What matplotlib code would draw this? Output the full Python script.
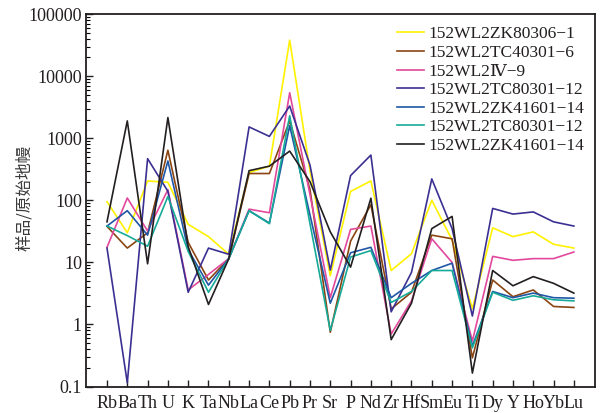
import matplotlib.pyplot as plt
from matplotlib.ticker import FixedLocator, FixedFormatter, LogLocator, NullFormatter

# normalised to primitive mantle
elements = ['Rb', 'Ba', 'Th', 'U', 'K', 'Ta', 'Nb', 'La', 'Ce', 'Pb', 'Pr', 'Sr',
            'P', 'Nd', 'Zr', 'Hf', 'Sm', 'Eu', 'Ti', 'Dy', 'Y', 'Ho', 'Yb', 'Lu']

zk80306_1 = [95, 30, 205, 195, 41, 26, 13.5, 280, 355, 38000, 300, 6.1,
             139, 205, 7.4, 13.8, 100, 23, 1.8, 36, 26, 31, 19.6, 17]
tc40301_6 = [38, 17, 30, 640, 21, 5.2, 11.5, 270, 270, 1900, 150, 0.75,
             22, 85, 1.78, 3.3, 27.5, 24, 0.29, 5.2, 2.8, 3.6, 1.95, 1.88]
iv_9 = [17.5, 109, 32, 148, 3.6, 6.4, 11.5, 72, 63, 5400, 123, 2.7,
        34, 38.5, 0.70, 2.4, 24, 10, 0.54, 12.5, 10.8, 11.5, 11.5, 14.7]
tc80301_12a = [17, 0.115, 468, 140, 3.3, 17, 13.5, 1520, 1070, 3300, 370, 7.5,
               250, 535, 1.6, 6.9, 221, 35, 1.37, 74, 60, 65, 45, 38.5]
zk41601_14a = [38.5, 68, 27.5, 430, 16, 4.3, 11.5, 68, 43, 1590, 58, 2.2,
               14.3, 17.5, 2.7, 4.6, 7.4, 9.7, 0.45, 3.4, 2.7, 3.2, 2.7, 2.65]
tc80301_12b = [38.5, 27, 18.2, 115, 15, 3.3, 11.5, 68, 42, 2300, 42, 0.8,
               12.2, 15.5, 2.26, 3.4, 7.4, 7.4, 0.42, 3.3, 2.45, 2.9, 2.5, 2.4]
zk41601_14b = [45, 1900, 9.5, 2150, 18, 2.1, 11.5, 300, 355, 620, 200, 31,
               8.4, 108, 0.57, 2.2, 35, 55, 0.165, 7.4, 4.2, 5.9, 4.6, 3.2]

series = [
    ('152WL2ZK80306\u22121', zk80306_1, '#FFF200'),
    ('152WL2TC40301\u22126', tc40301_6, '#8B4513'),
    ('152WL2\u2163\u22129', iv_9, '#E2489C'),
    ('152WL2TC80301\u221212', tc80301_12a, '#3B3092'),
    ('152WL2ZK41601\u221214', zk41601_14a, '#1F57A6'),
    ('152WL2TC80301\u221212', tc80301_12b, '#16AA98'),
    ('152WL2ZK41601\u221214', zk41601_14b, '#231F20'),
]

yticks = [0.1, 1, 10, 100, 1000, 10000, 100000]
ytick_labels = ['0.1', '1', '10', '100', '1000', '10000', '100000']

serif = ['Liberation Serif', 'DejaVu Serif', 'Noto Sans CJK SC']
plt.rcParams['font.family'] = serif

fig = plt.figure(figsize=(6.02, 4.13), dpi=100)
ax = fig.add_axes([0.143, 0.064, 0.845, 0.902])

x = list(range(len(elements)))
for label, vals, color in series:
    ax.plot(x, vals, color=color, lw=1.2, label=label)

ax.set_yscale('log')
ax.set_ylim(0.1, 100000)
ax.set_xlim(-1.03, len(elements) - 1 + 1.03)

ax.yaxis.set_major_locator(FixedLocator(yticks))
ax.yaxis.set_major_formatter(FixedFormatter(ytick_labels))
ax.yaxis.set_minor_locator(LogLocator(base=10, subs=range(2, 10), numticks=20))
ax.yaxis.set_minor_formatter(NullFormatter())

ax.set_xticks(x)
ax.set_xticklabels(elements)

ax.tick_params(axis='both', which='major', direction='in', length=5, width=1,
               labelsize=13, colors='#231F20')
ax.tick_params(axis='y', which='minor', direction='in', length=3, width=0.8)
ax.tick_params(axis='x', pad=6)
ax.tick_params(axis='y', pad=3)

for sp in ax.spines.values():
    sp.set_linewidth(1.3)
    sp.set_color('#231F20')

ax.set_ylabel('样品/原始地幔', fontsize=12,
              family=['Noto Sans CJK SC', 'DejaVu Sans'], color='#3a3a3a')
ax.yaxis.set_label_coords(-0.104, 0.506)

leg = ax.legend(loc='upper right', frameon=False, fontsize=12.5,
                handlelength=1.55, handletextpad=0.25, labelspacing=0.14,
                borderaxespad=0.2, bbox_to_anchor=(1.0, 0.995))
for t in leg.get_texts():
    t.set_color('#231F20')

fig.savefig('out.png', dpi=100)
